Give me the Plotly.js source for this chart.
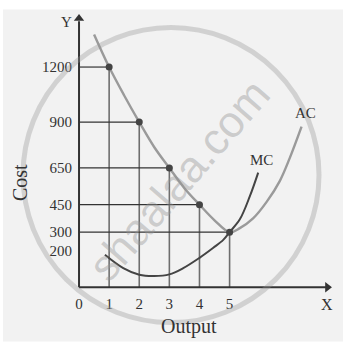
<!DOCTYPE html>
<html><head><meta charset="utf-8">
<script src="https://cdn.plot.ly/plotly-3.0.1.min.js"></script>
<style>html,body{margin:0;padding:0;background:#fff}#chart{width:357px;height:344px}</style>
</head><body><div id="chart"></div>
<script>
// ---- data ----
const output = [1, 2, 3, 4, 5];
const acAtOutput = [1200, 900, 650, 450, 300];
const yTickVals = [200, 300, 450, 650, 900, 1200];
const xTickVals = [0, 1, 2, 3, 4, 5];
const acCurveX = [0.5, 1, 1.5, 2, 2.5, 3, 3.5, 4, 4.5, 5, 5.34, 5.78, 6.23, 6.67, 7.0, 7.39];
const acCurveY = [1378, 1200, 1045, 900, 763, 650, 540, 450, 365, 300, 322, 375, 465, 580, 705, 875];
const mcCurveX = [0.86, 1.47, 2.0, 2.5, 3.0, 3.46, 3.99, 4.46, 4.79, 5.0, 5.34, 5.67, 5.95];
const mcCurveY = [177, 104, 68, 61, 70, 104, 159, 215, 258, 300, 370, 495, 625];

// ---- layout geometry ----
const W = 357, H = 344;
const M = {l: 73, r: 19, t: 11.5, b: 53.7};
const PW = W - M.l - M.r, PH = H - M.t - M.b;
const px = x => (x - M.l) / PW;          // pixel -> paper x
const py = y => (H - M.b - y) / PH;      // pixel -> paper y
const serif = 'Liberation Serif, Times New Roman, serif';

// guide lines built from the point arrays
const hx = [], hy = [], vx = [], vy = [];
output.forEach((o, i) => {
  hx.push(0, o, null); hy.push(acAtOutput[i], acAtOutput[i], null);
  vx.push(o, o, null); vy.push(0, acAtOutput[i], null);
});

const traces = [
  {x: vx, y: vy, mode: 'lines', line: {color: '#6e6e6e', width: 1.6}, hoverinfo: 'skip'},
  {x: hx, y: hy, mode: 'lines', line: {color: '#333', width: 1.2}, hoverinfo: 'skip'},
  {x: acCurveX, y: acCurveY, mode: 'lines', name: 'AC',
   line: {color: '#9a9a9a', width: 2.4, shape: 'spline', smoothing: 1}},
  {x: mcCurveX, y: mcCurveY, mode: 'lines', name: 'MC',
   line: {color: '#444', width: 2, shape: 'spline', smoothing: 1}},
  {x: output, y: acAtOutput, mode: 'markers', marker: {color: '#444', size: 7}},
  {x: [8.25], y: [0], mode: 'markers', cliponaxis: false,
   marker: {symbol: 'triangle-right', size: 9, color: '#333'}},
  {x: [0], y: [1465], mode: 'markers', cliponaxis: false,
   marker: {symbol: 'triangle-up', size: 9, color: '#333'}}
];

const lab = (x, y, text, size, extra) => Object.assign({
  xref: 'paper', yref: 'paper', x: px(x), y: py(y), text: text, showarrow: false,
  xanchor: 'center', yanchor: 'middle', font: {size: size, family: serif, color: '#333'}
}, extra || {});

const layout = {
  width: W, height: H, margin: M,
  paper_bgcolor: '#ffffff', plot_bgcolor: 'rgba(0,0,0,0)',
  showlegend: false,
  font: {family: serif, color: '#333'},
  xaxis: {range: [-0.2, 8.6], tickvals: xTickVals, showgrid: false, zeroline: false,
          showline: false, ticks: '', ticklabelstandoff: 3,
          tickfont: {size: 15, family: serif, color: '#333'}},
  yaxis: {range: [-15, 1500], tickvals: yTickVals, showgrid: false, zeroline: false,
          showline: false, ticks: '', ticklabelstandoff: 0,
          tickfont: {size: 15, family: serif, color: '#333'}},
  shapes: [
    {type: 'rect', xref: 'paper', yref: 'paper', layer: 'below',
     x0: px(3), x1: px(343), y0: py(342), y1: py(9),
     fillcolor: '#f2f2f2', line: {width: 0}},
    {type: 'line', xref: 'x', yref: 'y', x0: 0, x1: 8.2, y0: 0, y1: 0,
     line: {color: '#333', width: 2}},
    {type: 'line', xref: 'x', yref: 'y', x0: 0, x1: 0, y0: 0, y1: 1450,
     line: {color: '#333', width: 2}},
    {type: 'circle', xref: 'paper', yref: 'paper', layer: 'above',
     x0: px(23), x1: px(319), y0: py(323), y1: py(27),
     line: {color: 'rgba(150,150,150,0.35)', width: 5}}
  ],
  annotations: [
    lab(178, 180, 'shaalaa.com', 44, {textangle: -49,
      font: {family: 'Liberation Sans, Arial, sans-serif', size: 44, color: 'rgba(150,150,150,0.42)'}}),
    lab(66, 22, 'Y', 15),
    lab(327, 305, 'X', 16),
    lab(189, 327, 'Output', 20),
    lab(20, 183, 'Cost', 20, {textangle: -90}),
    lab(305, 113, 'AC', 15),
    lab(261, 160, 'MC', 15)
  ]
};

Plotly.newPlot('chart', traces, layout, {staticPlot: true, displayModeBar: false});
</script>
</body></html>
